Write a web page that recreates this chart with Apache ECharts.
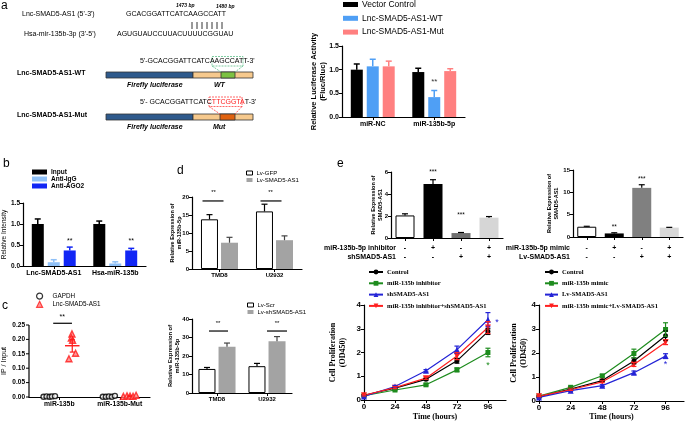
<!DOCTYPE html>
<html><head><meta charset="utf-8">
<script src="https://cdn.jsdelivr.net/npm/echarts@6.0.0/dist/echarts.min.js"></script>
<style>html,body{margin:0;padding:0;background:#fff;}#chart{width:685px;height:422px;}</style>
</head><body><div id="chart"></div>
<script>
// ================= DATA =================
// Panel a – luciferase reporter
const aCats = ['miR-NC', 'miR-135b-5p'];
const aVector = [1.00, 0.95];
const aVectorErr = [0.12, 0.08];
const aWT = [1.07, 0.42];
const aWTErr = [0.15, 0.14];
const aMut = [1.07, 0.97];
const aMutErr = [0.11, 0.05];

// Panel b – RIP
const bCats = ['Lnc-SMAD5-AS1', 'Hsa-miR-135b'];
const bInput = [1.00, 1.00];
const bInputErr = [0.12, 0.07];
const bIgG = [0.09, 0.06];
const bIgGErr = [0.06, 0.04];
const bAGO2 = [0.37, 0.37];
const bAGO2Err = [0.08, 0.05];

// Panel c – pull-down (x = group index + jitter)
const cCats = ['miR-135b', 'miR-135b-Mut'];
const cTicks = [0, 0.05, 0.10, 0.15, 0.20, 0.25];
const cGapdhX = [-0.26, -0.21, -0.16, -0.12, -0.07, 0.72, 0.77, 0.82, 0.87, 0.92];
const cGapdhY = [0.001, 0.002, 0.001, 0.002, 0.003, 0.001, 0.001, 0.002, 0.001, 0.004];
const cLncX = [0.21, 0.20, 0.22, 0.27, 0.16, 1.06, 1.12, 1.17, 1.22, 1.27];
const cLncY = [0.219, 0.205, 0.197, 0.152, 0.133, 0.002, 0.004, 0.003, 0.002, 0.006];
const cMeanX = [0.215, 1.165];
const cLncMean = [0.178, 0.003];
const cLncSem = [0.022, 0.001];

// Panel d
const dCats = ['TMD8', 'U2932'];
const d1GFP = [13.8, 16.0];
const d1GFPErr = [1.3, 2.0];
const d1AS1 = [7.3, 8.0];
const d1AS1Err = [1.5, 1.2];
const d2Scr = [13.0, 14.5];
const d2ScrErr = [0.8, 1.5];
const d2Sh = [25.0, 28.0];
const d2ShErr = [2.0, 2.5];

// Panel e – bars
const e1Inhibitor = ['-', '+', '-', '+'];
const e1Sh = ['-', '-', '+', '+'];
const e1Vals = [2.05, 4.90, 0.45, 1.85];
const e1Err = [0.15, 0.40, 0.05, 0.10];
const e2Mimic = ['-', '+', '-', '+'];
const e2Lv = ['-', '-', '+', '+'];
const e2Vals = [2.30, 0.80, 11.0, 2.10];
const e2Err = [0.10, 0.15, 0.70, 0.06];

// Panel e – proliferation curves
const hours = [0, 24, 48, 72, 96];
const e3Control = [0.20, 0.50, 0.87, 1.65, 2.88];
const e3ControlErr = [0.03, 0.03, 0.04, 0.10, 0.12];
const e3Inhib = [0.18, 0.42, 0.64, 1.27, 2.00];
const e3InhibErr = [0.03, 0.03, 0.04, 0.08, 0.18];
const e3Sh = [0.15, 0.57, 1.23, 2.12, 3.38];
const e3ShErr = [0.03, 0.04, 0.05, 0.15, 0.30];
const e3Combo = [0.20, 0.52, 0.92, 1.85, 3.05];
const e3ComboErr = [0.03, 0.04, 0.05, 0.15, 0.25];
const e4Control = [0.18, 0.50, 0.85, 1.67, 2.72];
const e4ControlErr = [0.02, 0.03, 0.04, 0.12, 0.20];
const e4Mimic = [0.20, 0.57, 1.05, 1.98, 2.98];
const e4MimicErr = [0.02, 0.03, 0.05, 0.18, 0.28];
const e4Lv = [0.15, 0.43, 0.64, 1.18, 1.87];
const e4LvErr = [0.02, 0.03, 0.04, 0.07, 0.10];
const e4Combo = [0.20, 0.47, 0.80, 1.52, 2.45];
const e4ComboErr = [0.02, 0.03, 0.04, 0.08, 0.10];

// ================= HELPERS =================
const SANS = '"Liberation Sans", Arial, sans-serif';
const SERIF = '"Liberation Serif", "Times New Roman", serif';

function idx(gi) { return Array.isArray(gi) ? { xAxisIndex: gi[0], yAxisIndex: gi[1] } : { xAxisIndex: gi, yAxisIndex: gi }; }
function grid(left, top, width, height) {
  return { left, top, width, height, containLabel: false, outerBoundsMode: 'none' };
}
function yAx(gi, min, max, interval, fs, fmt, name, gap, nfs, nfam, nweight) {
  return {
    type: 'value', gridIndex: gi, min, max, interval,
    axisLine: { show: true, onZero: false, lineStyle: { color: '#000', width: 1.2 } },
    axisTick: { show: true, length: 3, lineStyle: { color: '#000', width: 1 } },
    axisLabel: { show: true, color: '#000', fontSize: fs, fontWeight: 'bold', fontFamily: SANS, margin: 3, formatter: fmt },
    splitLine: { show: false },
    name, nameLocation: 'middle', nameGap: gap, nameMoveOverlap: false,
    nameTextStyle: { color: '#000', fontSize: nfs, fontWeight: nweight || 'bold', fontFamily: nfam || SANS, lineHeight: Math.round(nfs * 1.2) }
  };
}
function xCat(gi, data, fs, margin, fmt, lh) {
  return {
    type: 'category', gridIndex: gi, data,
    axisLine: { show: true, onZero: false, lineStyle: { color: '#000', width: 1.2 } },
    axisTick: { show: true, alignWithLabel: true, length: 3, lineStyle: { color: '#000' } },
    axisLabel: { color: '#000', fontSize: fs, fontWeight: 'bold', fontFamily: SANS, margin, interval: 0, formatter: fmt, lineHeight: lh },
    splitLine: { show: false }
  };
}
function xVal(gi, min, max, ticks, fs, fmt, name, gap) {
  return {
    type: 'value', gridIndex: gi, min, max,
    axisLine: { show: true, onZero: false, lineStyle: { color: '#000', width: 1.2 } },
    axisTick: { show: true, length: 3, customValues: ticks, lineStyle: { color: '#000' } },
    axisLabel: { color: '#000', fontSize: fs, fontWeight: 'bold', fontFamily: SANS, margin: 3, customValues: ticks, formatter: fmt },
    splitLine: { show: false },
    name, nameLocation: 'middle', nameGap: gap, nameMoveOverlap: false,
    nameTextStyle: { color: '#000', fontSize: 8, fontWeight: 'bold', fontFamily: SERIF }
  };
}
function bar(name, gi, vals, color, bw, gap, border) {
  return Object.assign({
    type: 'bar', name, data: vals, barWidth: bw, barGap: gap, silent: true, z: 2,
    itemStyle: { color, borderColor: border || color, borderWidth: border ? 1 : 0 }
  }, idx(gi));
}
// error bars; xs = x positions (null -> category index); off = pixel offset; both = symmetric
function err(gi, vals, errs, off, color, cap, lw, both, xs) {
  return Object.assign({
    type: 'custom', silent: true, z: 4,
    data: vals.map((v, i) => [xs ? xs[i] : i, v]),
    renderItem(params, api) {
      const i = params.dataIndex;
      const x0 = xs ? xs[i] : i;
      const pm = api.coord([x0, vals[i]]);
      const pt = api.coord([x0, vals[i] + errs[i]]);
      const pb = api.coord([x0, vals[i] - errs[i]]);
      const x = pm[0] + off;
      const bot = both ? pb[1] : pm[1];
      const ch = [
        { type: 'line', shape: { x1: x, y1: bot, x2: x, y2: pt[1] }, style: { stroke: color, lineWidth: lw } },
        { type: 'line', shape: { x1: x - cap / 2, y1: pt[1], x2: x + cap / 2, y2: pt[1] }, style: { stroke: color, lineWidth: lw } }
      ];
      if (both) ch.push({ type: 'line', shape: { x1: x - cap / 2, y1: bot, x2: x + cap / 2, y2: bot }, style: { stroke: color, lineWidth: lw } });
      return { type: 'group', children: ch };
    }
  }, idx(gi));
}
// annotations: text {x,y,t,dx,c,fs} or line {x,y,x2 | dx1,dx2}
function annot(gi, items) {
  return Object.assign({
    type: 'custom', silent: true, z: 6,
    data: items.map(it => [it.x, it.y]),
    renderItem(params, api) {
      const it = items[params.dataIndex];
      const p = api.coord([it.x, it.y]);
      if (it.line) {
        let xa, xb;
        if (it.x2 !== undefined) { xa = p[0]; xb = api.coord([it.x2, it.y])[0]; }
        else { xa = p[0] + it.dx1; xb = p[0] + it.dx2; }
        return { type: 'line', shape: { x1: xa, y1: p[1], x2: xb, y2: p[1] }, style: { stroke: it.c || '#000', lineWidth: it.lw || 1.2 } };
      }
      return {
        type: 'text', x: p[0] + (it.dx || 0), y: p[1],
        style: { text: it.t, fill: it.c || '#000', fontSize: it.fs || 8, fontWeight: 'normal', fontFamily: SANS, align: 'center', verticalAlign: 'middle' }
      };
    }
  }, idx(gi));
}
// y-axis line, ticks and labels drawn through the axis scale (panel c)
function yAxisMarks(gi, ticks, xEdge, fs, fmt) {
  return Object.assign({
    type: 'custom', silent: true, z: 7, clip: false,
    data: ticks.map(v => [xEdge, v]),
    renderItem(params, api) {
      const i = params.dataIndex;
      const p = api.coord([xEdge, ticks[i]]);
      const ch = [
        { type: 'line', shape: { x1: p[0] - 3, y1: p[1], x2: p[0], y2: p[1] }, style: { stroke: '#000', lineWidth: 1 } },
        { type: 'text', x: p[0] - 4, y: p[1], style: { text: fmt(ticks[i]), fontSize: fs, fontWeight: 'bold', fontFamily: SANS, fill: '#000', align: 'right', verticalAlign: 'middle' } }
      ];
      if (i === 0) {
        const top = api.coord([xEdge, ticks[ticks.length - 1]]);
        ch.push({ type: 'line', shape: { x1: p[0], y1: p[1] + 0.6, x2: p[0], y2: top[1] }, style: { stroke: '#000', lineWidth: 1.2 } });
      }
      return { type: 'group', children: ch };
    }
  }, idx(gi));
}
function leg(names, left, top, fs, lh, gap, iw, ih, fam, fw, icon, tpad, bw) {
  const l = {
    data: names, left, top, orient: 'vertical', itemGap: gap, itemWidth: iw, itemHeight: ih, padding: 0,
    selectedMode: false, formatter: n => n.split('|')[1],
    textStyle: { fontSize: fs, lineHeight: lh, fontFamily: fam || SANS, fontWeight: fw || 'normal', color: '#000', padding: [0, 0, 0, tpad || -1] }
  };
  if (icon) l.icon = icon;
  if (bw !== undefined) l.itemStyle = { borderWidth: bw };
  return l;
}
function line(name, gi, ys, color, symbol, rot) {
  return Object.assign({
    type: 'line', name, data: hours.map((h, i) => [h, ys[i]]),
    symbol, symbolSize: symbol === 'triangle' ? 6 : 5, symbolRotate: rot || 0, showSymbol: true, silent: true, z: 3,
    lineStyle: { color, width: 1.2 }, itemStyle: { color, borderColor: color, borderWidth: 0 }
  }, idx(gi));
}
function T(x, y, text, fs, fw, fst, fill, align) {
  return { type: 'text', x, y, silent: true, style: { text, fontSize: fs, fontWeight: fw || 'normal', fontStyle: fst || 'normal', fontFamily: SANS, fill: fill || '#000', align: align || 'left', verticalAlign: 'middle' } };
}
function R(x, y, w, h, fill, stroke, dash) {
  return { type: 'rect', silent: true, shape: { x, y, width: w, height: h }, style: { fill: fill || 'none', stroke: stroke || null, lineWidth: 0.8, lineDash: dash || null } };
}
function L(x1, y1, x2, y2, stroke, dash, lw) {
  return { type: 'line', silent: true, shape: { x1, y1, x2, y2 }, style: { stroke, lineWidth: lw || 0.8, lineDash: dash || null } };
}

// ================= GRAPHICS (schematic + panel letters) =================
const graphics = [
  T(1, 6, 'a', 12), T(3, 164, 'b', 12), T(2, 306, 'c', 12), T(177, 171, 'd', 12), T(337, 164, 'e', 12),
  T(176, 6, '1473 bp', 5, 'bold', 'italic'),
  T(216, 7, '1480 bp', 5, 'bold', 'italic'),
  T(22, 14, "Lnc-SMAD5-AS1 (5'-3')", 7),
  T(126, 14, 'GCACGGATTCATCAAGCCATT', 7),
  T(24, 34, "Hsa-mir-135b-3p (3'-5')", 7),
  T(117, 34, 'AGUGUAUCCUUACUUUUCGGUAU', 7),
  R(212, 56.5, 31, 9.5, 'none', '#5fc08c', [2, 1]),
  T(140, 61, "5'-GCACGGATTCATCAAGCCATT-3'", 7),
  T(17, 73, 'Lnc-SMAD5-AS1-WT', 7, 'bold'),
  R(106, 72, 87, 6, '#2f5a8c', '#333'),
  R(193, 72, 60, 6, '#f6c98d', '#333'),
  R(221, 72, 14, 6, '#7cc242', '#333'),
  L(212, 66, 221, 72, '#5fc08c', [2, 1]),
  L(243, 66, 235, 72, '#5fc08c', [2, 1]),
  T(127, 85, 'Firefly luciferase', 7, 'bold', 'italic'),
  T(214, 85, 'WT', 7, 'bold', 'italic'),
  R(209, 97, 33, 9.5, 'none', '#ff4040', [2, 1]),
  { type: 'text', x: 140, y: 102, silent: true, style: { text: "5'- GCACGGATTCATC{r|TTCGGTA}T-3'", fontSize: 7, fontFamily: SANS, fill: '#000', verticalAlign: 'middle', rich: { r: { fill: '#ff2020', fontSize: 7, fontFamily: SANS } } } },
  T(17, 115, 'Lnc-SMAD5-AS1-Mut', 7, 'bold'),
  R(106, 114, 87, 6, '#2f5a8c', '#333'),
  R(193, 114, 60, 6, '#f6c98d', '#333'),
  R(220, 114, 15, 6, '#e0620f', '#333'),
  L(209, 106.5, 220, 114, '#ff4040', [2, 1]),
  L(242, 106.5, 235, 114, '#ff4040', [2, 1]),
  T(127, 127, 'Firefly luciferase', 7, 'bold', 'italic'),
  T(213, 127, 'Mut', 7, 'bold', 'italic'),
  // row labels for panel e bar charts
  T(396, 248, 'miR-135b-5p inhibitor', 7, 'bold', null, '#000', 'right'),
  T(396, 257, 'shSMAD5-AS1', 7, 'bold', null, '#000', 'right'),
  T(570, 248, 'miR-135b-5p mimic', 7, 'bold', null, '#000', 'right'),
  T(570, 257, 'Lv-SMAD5-AS1', 7, 'bold', null, '#000', 'right')
];
for (let i = 0; i < 7; i++) graphics.push(L(192 + i * 5, 22, 192 + i * 5, 29, '#000', null, 0.8));

// ================= OPTION =================
const f1 = v => Number(v).toFixed(1), f2 = v => Number(v).toFixed(2), f0 = v => String(v);
const signs = (a, b) => (v, i) => a[i] + '\n' + b[i];
const C = [9, 2]; // panel c: hidden value x-axis (jitter positions) + y-axis 2

// panel c y-axis: scale + name from ECharts, line/ticks/labels drawn by yAxisMarks through the same scale
const cY = yAx(2, cTicks[0], cTicks[cTicks.length - 1], 0.05, 6.5, f2, 'IP / Input', 21, 7, SANS, 'normal');
cY.axisLine.show = false; cY.axisTick.show = false; cY.axisLabel.show = false;

const option = {
  animation: false,
  backgroundColor: '#fff',
  grid: [
    grid(342, 46, 123, 71),   // 0 a
    grid(23, 203, 123, 63),   // 1 b
    grid(29, 325, 121, 72),   // 2 c
    grid(192, 197, 110, 72),  // 3 d1
    grid(192, 319, 100, 74),  // 4 d2
    grid(391, 172, 112, 66),  // 5 e1
    grid(573, 170, 110, 67),  // 6 e2
    grid(364, 305, 142, 95),  // 7 e3
    grid(539, 305, 145, 96)   // 8 e4
  ],
  xAxis: [
    xCat(0, aCats, 7, 4),
    xCat(1, bCats, 7, 4),
    xCat(2, cCats, 6.8, 4),
    xCat(3, dCats, 6, 3),
    xCat(4, dCats, 6, 3),
    xCat(5, e1Vals.map((v, i) => i), 7, 5.5, signs(e1Inhibitor, e1Sh), 9),
    xCat(6, e2Vals.map((v, i) => i), 7, 6.5, signs(e2Mimic, e2Lv), 9),
    xVal(7, 0, 110, hours, 8, f0, 'Time (hours)', 13),
    xVal(8, 0, 110, hours, 8, f0, 'Time (hours)', 12),
    { type: 'value', gridIndex: 2, min: -0.5, max: 1.5, show: false, axisLine: { onZero: false } }
  ],
  yAxis: [
    yAx(0, 0, 1.5, 0.5, 7, f1, 'Relative Luciferase Activity\n(Fluc/Rluc)', 15, 7.5),
    yAx(1, 0, 1.5, 0.5, 6.5, f1, 'Relative Intensity', 15, 6.5, SANS, 'normal'),
    cY,
    yAx(3, 0, 20, 5, 6, f0, 'Relative Expression of\nmiR-135b-5p', 9, 5.5),
    yAx(4, 0, 40, 10, 6, f0, 'Relative Expression of\nmiR-135b-5p', 11, 5.8),
    yAx(5, 0, 6, 2, 6, f0, 'Relative Expression of\nSMAD5-AS1', 7, 5.5),
    yAx(6, 0, 15, 5, 6, f0, 'Relative Expression of\nSMAD5-AS1', 13, 5.5),
    yAx(7, 0, 4, 1, 8, f0, 'Cell Proliferation\n(OD450)', 16, 8, SERIF),
    yAx(8, 0, 4, 1, 8, f0, 'Cell Proliferation\n(OD450)', 10, 8, SERIF)
  ],
  legend: [
    leg(['a|Vector Control', 'a|Lnc-SMAD5-AS1-WT', 'a|Lnc-SMAD5-AS1-Mut'], 343, -0.5, 8.5, 10, 3.8, 15, 5, SANS, 'normal', 'rect'),
    leg(['b|Input', 'b|Anti-IgG', 'b|Anti-AGO2'], 32, 168.5, 6.5, 7, 0, 15, 5, SANS, 'bold', 'rect'),
    leg(['c|GAPDH', 'c|Lnc-SMAD5-AS1'], 36, 292.5, 6.3, 7, 1, 6, 6, SANS, 'normal', null, 5, 1.2),
    leg([{ name: 'd1|Lv-GFP', itemStyle: { color: '#fff', borderColor: '#000', borderWidth: 1 } }, 'd1|Lv-SMAD5-AS1'], 246, 169.5, 6, 7, 0, 6, 4, SANS, 'normal', 'rect'),
    leg([{ name: 'd2|Lv-Scr', itemStyle: { color: '#fff', borderColor: '#000', borderWidth: 1 } }, 'd2|Lv-shSMAD5-AS1'], 247, 301.5, 6, 7, 0, 6, 4, SANS, 'normal', 'rect'),
    leg(['e3|Control', 'e3|miR-135b inhibitor', 'e3|shSMAD5-AS1', 'e3|miR-135b inhibitor+shSMAD5-AS1'], 368, 268, 6.5, 8, 3.3, 14, 6, SERIF, 'bold'),
    leg(['e4|Control', 'e4|miR-135b mimic', 'e4|Lv-SMAD5-AS1', 'e4|miR-135b mimic+Lv-SMAD5-AS1'], 544, 268, 6.5, 8, 3.3, 13, 6, SERIF, 'bold')
  ],
  series: [
    // a
    bar('a|Vector Control', 0, aVector, '#000000', 12, '33%'),
    bar('a|Lnc-SMAD5-AS1-WT', 0, aWT, '#4f9ff5', 12, '33%'),
    bar('a|Lnc-SMAD5-AS1-Mut', 0, aMut, '#ff8080', 12, '33%'),
    err(0, aVector, aVectorErr, -16, '#000000', 6, 1.5),
    err(0, aWT, aWTErr, 0, '#4f9ff5', 6, 1.5),
    err(0, aMut, aMutErr, 16, '#ff8080', 6, 1.5),
    annot(0, [{ x: 1, y: 0.74, t: '**', fs: 8, c: '#333' }]),
    // b
    bar('b|Input', 1, bInput, '#000000', 12, '33%'),
    bar('b|Anti-IgG', 1, bIgG, '#8fc0f7', 12, '33%'),
    bar('b|Anti-AGO2', 1, bAGO2, '#1126f5', 12, '33%'),
    err(1, bInput, bInputErr, -16, '#000000', 6, 1.5),
    err(1, bIgG, bIgGErr, 0, '#8fc0f7', 6, 1.5),
    err(1, bAGO2, bAGO2Err, 16, '#1126f5', 6, 1.5),
    annot(1, [{ x: 0, y: 0.6, t: '**', dx: 16, fs: 7 }, { x: 1, y: 0.6, t: '**', dx: 16, fs: 7 }]),
    // c
    yAxisMarks(C, cTicks, -0.5, 6.5, f2),
    Object.assign({
      type: 'scatter', name: 'c|GAPDH', silent: true, z: 3,
      data: cGapdhX.map((x, i) => [x, cGapdhY[i]]), symbol: 'circle', symbolSize: 5,
      itemStyle: { color: '#fff', borderColor: '#000', borderWidth: 1.4 }
    }, idx(C)),
    Object.assign({
      type: 'scatter', name: 'c|Lnc-SMAD5-AS1', silent: true, z: 3,
      data: cLncX.map((x, i) => [x, cLncY[i]]), symbol: 'triangle', symbolSize: 6,
      itemStyle: { color: '#ff8080', borderColor: '#ff1a1a', borderWidth: 1.4 }
    }, idx(C)),
    err(C, cLncMean, cLncSem, 0, '#ff1a1a', 5, 1.2, true, cMeanX),
    annot(C, [
      { x: cMeanX[0] - 0.12, x2: cMeanX[0] + 0.12, y: cLncMean[0], line: true, c: '#ff1a1a', lw: 1.4 },
      { x: -0.1, x2: 0.21, y: 0.256, line: true, lw: 1.2 },
      { x: 0.05, y: 0.279, t: '**', fs: 7 }
    ]),
    // d1
    bar('d1|Lv-GFP', 3, d1GFP, '#ffffff', 17, '18%', '#000'),
    bar('d1|Lv-SMAD5-AS1', 3, d1AS1, '#a3a3a3', 17, '18%'),
    err(3, d1GFP, d1GFPErr, -10, '#000', 6, 1.2),
    err(3, d1AS1, d1AS1Err, 10, '#444', 6, 1.2),
    annot(3, [
      { x: 0, y: 18.9, line: true, dx1: -17, dx2: 4 }, { x: 0, y: 21.2, t: '**', dx: -6, fs: 6 },
      { x: 1, y: 18.9, line: true, dx1: -14, dx2: 7 }, { x: 1, y: 21.2, t: '**', dx: -4, fs: 6 }
    ]),
    // d2
    bar('d2|Lv-Scr', 4, d2Scr, '#ffffff', 17, '18%', '#000'),
    bar('d2|Lv-shSMAD5-AS1', 4, d2Sh, '#a3a3a3', 17, '18%'),
    err(4, d2Scr, d2ScrErr, -10, '#000', 6, 1.2),
    err(4, d2Sh, d2ShErr, 10, '#444', 6, 1.2),
    annot(4, [
      { x: 0, y: 33.5, line: true, dx1: -8, dx2: 11 }, { x: 0, y: 37.6, t: '**', dx: 1, fs: 6 },
      { x: 1, y: 33.5, line: true, dx1: 0, dx2: 20 }, { x: 1, y: 37.6, t: '**', dx: 10, fs: 6 }
    ]),
    // e1
    Object.assign({
      type: 'bar', barWidth: 19, silent: true, z: 2,
      data: e1Vals.map((v, i) => ({ value: v, itemStyle: { color: ['#ffffff', '#000000', '#707070', '#d6d6d6'][i], borderColor: '#000', borderWidth: i === 0 ? 1 : 0 } }))
    }, idx(5)),
    err(5, e1Vals, e1Err, 0, '#000', 6, 1.2),
    annot(5, [{ x: 1, y: 5.95, t: '***', fs: 6.5 }, { x: 2, y: 2.05, t: '***', fs: 6.5 }]),
    // e2
    Object.assign({
      type: 'bar', barWidth: 19, silent: true, z: 2,
      data: e2Vals.map((v, i) => ({ value: v, itemStyle: { color: ['#ffffff', '#000000', '#808080', '#d8d8d8'][i], borderColor: '#000', borderWidth: i === 0 ? 1 : 0 } }))
    }, idx(6)),
    err(6, e2Vals, e2Err, 0, '#000', 6, 1.2),
    annot(6, [{ x: 1, y: 2.1, t: '**', fs: 6.5 }, { x: 2, y: 13.0, t: '***', fs: 6.5 }]),
    // e3
    line('e3|Control', 7, e3Control, '#000000', 'circle'),
    line('e3|miR-135b inhibitor', 7, e3Inhib, '#1e8c1e', 'rect'),
    line('e3|shSMAD5-AS1', 7, e3Sh, '#2424d6', 'triangle'),
    line('e3|miR-135b inhibitor+shSMAD5-AS1', 7, e3Combo, '#ff2020', 'triangle', 180),
    err(7, e3Control, e3ControlErr, 0, '#000000', 5, 1.2, true, hours),
    err(7, e3Inhib, e3InhibErr, 0, '#1e8c1e', 5, 1.2, true, hours),
    err(7, e3Sh, e3ShErr, 0, '#2424d6', 5, 1.2, true, hours),
    err(7, e3Combo, e3ComboErr, 0, '#ff2020', 5, 1.2, true, hours),
    annot(7, [{ x: 103, y: 3.25, t: '*', c: '#2424d6', fs: 9 }, { x: 96, y: 1.47, t: '*', c: '#1e8c1e', fs: 9 }]),
    // e4
    line('e4|Control', 8, e4Control, '#000000', 'circle'),
    line('e4|miR-135b mimic', 8, e4Mimic, '#1e8c1e', 'rect'),
    line('e4|Lv-SMAD5-AS1', 8, e4Lv, '#2424d6', 'triangle'),
    line('e4|miR-135b mimic+Lv-SMAD5-AS1', 8, e4Combo, '#ff2020', 'triangle', 180),
    err(8, e4Control, e4ControlErr, 0, '#000000', 5, 1.2, true, hours),
    err(8, e4Mimic, e4MimicErr, 0, '#1e8c1e', 5, 1.2, true, hours),
    err(8, e4Lv, e4LvErr, 0, '#2424d6', 5, 1.2, true, hours),
    err(8, e4Combo, e4ComboErr, 0, '#ff2020', 5, 1.2, true, hours),
    annot(8, [{ x: 96, y: 1.5, t: '*', c: '#2424d6', fs: 9 }])
  ],
  graphic: graphics
};

const chart = echarts.init(document.getElementById('chart'), null, { renderer: 'canvas', width: 685, height: 422 });
chart.setOption(option);
</script>
</body></html>
